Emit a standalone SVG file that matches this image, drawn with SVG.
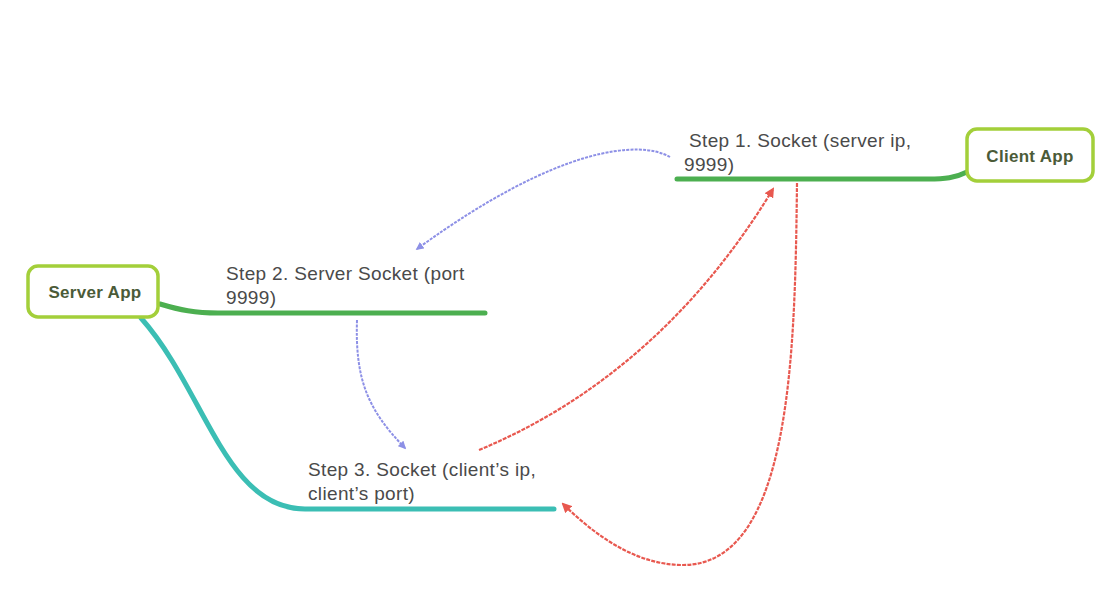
<svg xmlns="http://www.w3.org/2000/svg" width="1112" height="613" viewBox="0 0 1112 613">
<defs>
<style>
.box{fill:#fff;stroke:#A3CF3A;stroke-width:3.5}
.bl{font-family:"Liberation Sans",Arial,sans-serif;font-size:17px;font-weight:bold;fill:#4B5B38;text-anchor:middle;letter-spacing:0.3px}
.lbl{font-family:"Liberation Sans",Arial,sans-serif;font-size:19px;fill:#4a4a4a;letter-spacing:0.35px}
.br{fill:none;stroke-width:5;stroke-linecap:round}
.blue{fill:none;stroke:#8D90E6;stroke-width:2;stroke-dasharray:3 1.2}
.red{fill:none;stroke:#E8584F;stroke-width:2.2;stroke-dasharray:4 1.2}
</style>
<marker id="ab" viewBox="0 0 10 10" refX="8" refY="5" markerWidth="8" markerHeight="8" orient="auto" markerUnits="userSpaceOnUse"><path d="M0,0 L10,5 L0,10 z" fill="#8D90E6"/></marker>
<marker id="ar" viewBox="0 0 10 10" refX="8" refY="5" markerWidth="10" markerHeight="10" orient="auto" markerUnits="userSpaceOnUse"><path d="M0,0 L10,5 L0,10 z" fill="#E8584F"/></marker>
</defs>
<rect width="1112" height="613" fill="#fff"/>
<g id="connectors">
<path class="br" stroke="#4CAF50" d="M967 172 C955 178 945 179 928 179 L677 179"/>
<path class="br" stroke="#4CAF50" d="M160 304 C180 310 195 313 218 313 L485 313"/>
<path class="br" stroke="#3BBEB4" d="M141 318 C205 390 225 509 305 509 L554 509"/>
<path class="blue" marker-end="url(#ab)" d="M670 157 C640 140 560 145 417 249"/>
<path class="blue" marker-end="url(#ab)" d="M357 320 C355 380 368 410 405 448"/>
<path class="red" marker-end="url(#ar)" d="M479 450 C600 400 700 310 773 189"/>
<path class="red" marker-end="url(#ar)" d="M797 183 C795 350 792 565 683 565 C635 565 595 535 563 504"/>
</g>
<g id="client-app">
<rect class="box" x="967" y="129" width="126" height="52" rx="10"/>
<text class="bl" x="1030" y="162">Client App</text>
</g>
<g id="server-app">
<rect class="box" x="28" y="266" width="130" height="51" rx="10"/>
<text class="bl" x="95" y="298">Server App</text>
</g>
<g id="step1">
<text class="lbl" x="689" y="147">Step 1. Socket (server ip,</text>
<text class="lbl" x="684" y="171">9999)</text>
</g>
<g id="step2">
<text class="lbl" x="226" y="280">Step 2. Server Socket (port</text>
<text class="lbl" x="226" y="304">9999)</text>
</g>
<g id="step3">
<text class="lbl" x="308" y="476">Step 3. Socket (client’s ip,</text>
<text class="lbl" x="308" y="500">client’s port)</text>
</g>
</svg>
